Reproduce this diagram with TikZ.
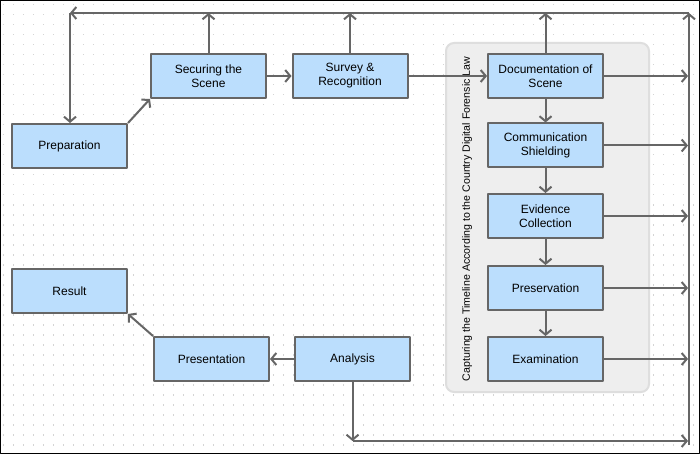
\documentclass[tikz,border=0pt]{standalone}
\usepackage{fontspec}
\setmainfont{Liberation Sans}
\usetikzlibrary{arrows.meta}
\definecolor{boxblue}{RGB}{187,222,253}
\definecolor{linegray}{RGB}{102,102,102}
\definecolor{groupgray}{RGB}{238,238,238}
\definecolor{groupedge}{RGB}{222,222,222}
\definecolor{dotgray}{RGB}{212,212,212}
\begin{document}
\begin{tikzpicture}[x=1pt, y=-1pt, line join=round, >={Straight Barb[length=5pt,width=12pt]}, font=\fontsize{12}{14}\selectfont,
	box/.style={draw=linegray, line width=2pt, fill=boxblue, minimum width=115pt, minimum height=44pt, align=center, inner sep=2pt},
	link/.style={draw=linegray, line width=2pt, ->}]
	\useasboundingbox (0,0) rectangle (700,454);
	\fill[white] (0,0) rectangle (700,454);
	\foreach \i in {0,...,69} \foreach \j in {0,...,44} \fill[dotgray] (3+10*\i,4+10*\j) rectangle +(1,1.5);
	%group
	\draw[groupedge, fill=groupgray, line width=2pt, rounded corners=8pt] (446,43) rectangle (649,392);
	\node[rotate=90, font=\fontsize{10.6}{12}\selectfont] (lawlabel) at (467,219) {Capturing the Timeline According to the Country Digital Forensic Law};
	\node[box] (prep) at (69.5,146) {Preparation};
	\node[box] (secure) at (208.5,76) {Securing the\\Scene};
	\node[box] (survey) at (350,76) {Survey \&\\Recognition};
	\node[box] (doc) at (545.5,76) {Documentation of\\Scene};
	\node[box] (comm) at (545.5,145.5) {Communication\\Shielding};
	\node[box] (evid) at (545.5,216) {Evidence\\Collection};
	\node[box] (pres) at (545.5,288) {Preservation};
	\node[box] (exam) at (545.5,359) {Examination};
	\node[box] (result) at (69.5,291) {Result};
	\node[box] (present) at (211.5,359) {Presentation};
	\node[box] (analysis) at (352.5,359) {Analysis};
	\coordinate (tl) at (70,13);
	\coordinate (tr) at (689,13);
	\coordinate (br) at (689,445);
	\coordinate (bend) at (688,441);
	\draw[link] (prep.north east) -- (secure.south west);
	\draw[link] (secure) -- (survey);
	\draw[link] (survey) -- (doc);
	\draw[link] (doc) -- (comm);
	\draw[link] (comm) -- (evid);
	\draw[link] (evid) -- (pres);
	\draw[link] (pres) -- (exam);
	\draw[link] (analysis) -- (present);
	\draw[link] (present.north west) -- (result.south east);
	\foreach \n in {secure,survey,doc} \draw[link] (\n.north) -- (\n.north |- tr);
	\foreach \n in {doc,comm,evid,pres,exam} \draw[link] (\n.east) -- (\n.east -| bend);
	\draw[link] (analysis.south) -- (analysis.south |- bend);
	\draw[link] (analysis.south |- bend) -- (bend);
	\draw[link] (br) -- (tr);
	\draw[link] (tr) -- (tl);
	\draw[link] (tl) -- (tl |- prep.north);
	\draw[black, line width=1pt] (0.5,0.5) rectangle (699.5,453.5);
\end{tikzpicture}
\end{document}
